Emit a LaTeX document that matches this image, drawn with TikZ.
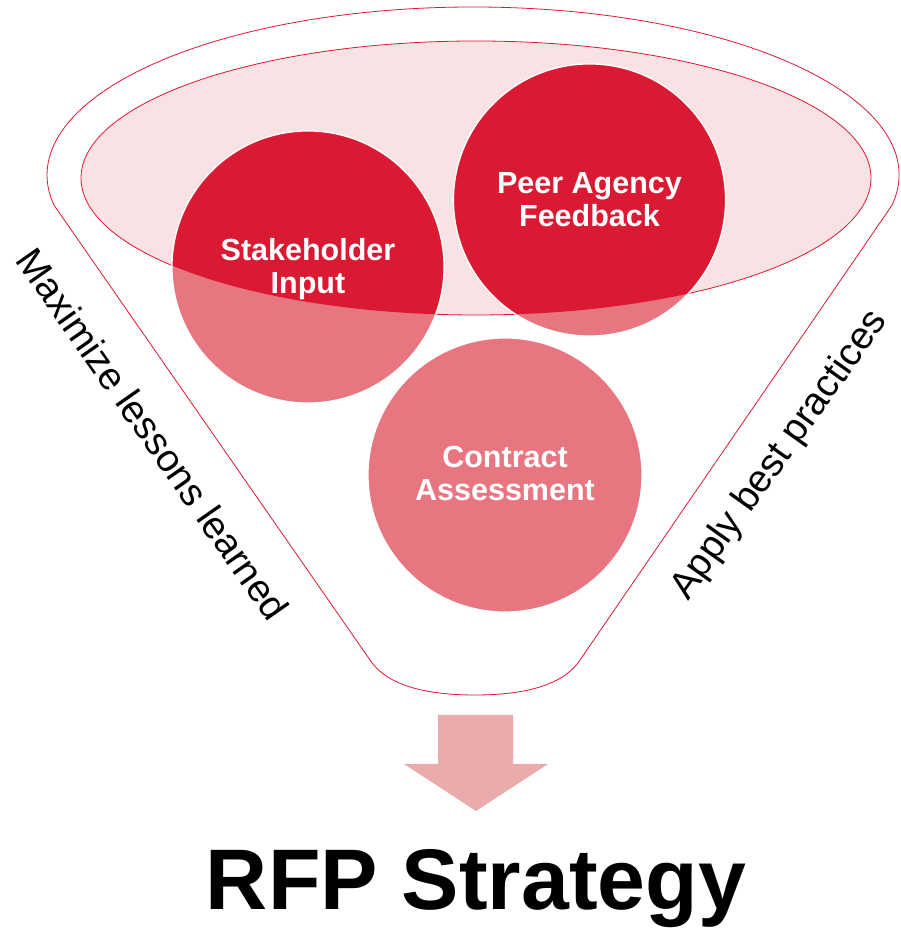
\documentclass[tikz,border=0pt]{standalone}
\usepackage{fontspec}
\setmainfont{Liberation Sans}
\definecolor{redmain}{RGB}{218,26,50}
\definecolor{pinkcirc}{RGB}{231,118,129}
\definecolor{ellfill}{RGB}{248,226,228}
\definecolor{arrowpink}{RGB}{233,171,172}
\tikzset{
  redline/.style={draw=redmain, line width=0.8pt},
  bubble/.style={line width=1.2pt, draw=white},
  bubbletext/.style={text=white, font=\fontsize{30.5}{33}\selectfont\bfseries, align=center, inner sep=0pt},
  sidetext/.style={text=black, font=\fontsize{38.5}{40}\selectfont, inner sep=0pt},
}
\begin{document}
\begin{tikzpicture}[x=1pt,y=1pt]
\useasboundingbox (0,0) rectangle (900,928);
% outer funnel
\draw[redline] (892.15,723) arc[start angle=-10.29, end angle=190.29, x radius=426, y radius=168]
  -- (370,268) .. controls (385,245) and (420,233) .. (475,233)
  .. controls (530,233) and (565,245) .. (580,268) -- cycle;
% inner ellipse
\filldraw[fill=ellfill, redline] (476,750) ellipse [x radius=395, y radius=137];
% circles (pink part)
\path[fill=pinkcirc, bubble] (308,661) circle[radius=136];
\path[fill=pinkcirc, bubble] (589.5,728) circle[radius=136];
\path[fill=pinkcirc, bubble] (505,453) circle[radius=137];
% dark part inside ellipse
\begin{scope}
  \clip (476,750) ellipse [x radius=395, y radius=137];
  \path[fill=redmain, bubble] (308,661) circle[radius=136];
  \path[fill=redmain, bubble] (589.5,728) circle[radius=136];
\end{scope}
% circle labels
\node[bubbletext] (stake) at (308,659) {Stakeholder\\Input};
\node[bubbletext] (peer) at (589.5,728) {Peer Agency\\Feedback};
\node[bubbletext] (contract) at (505,454) {Contract\\Assessment};
% side labels
\node[sidetext, rotate=-55] (maxim) at (153,494) {Maximize lessons learned};
\node[sidetext, rotate=54.5] (apply) at (780,473) {Apply best practices};
% arrow
\fill[arrowpink] (438,213) -- (513,213) -- (513,164) -- (548,164) -- (476,117) -- (404,164) -- (438,164) -- cycle;
% title
\node[anchor=base, inner sep=0pt, font=\fontsize{86}{90}\selectfont\bfseries] (title) at (476,18) {RFP Strategy};
\end{tikzpicture}
\end{document}
